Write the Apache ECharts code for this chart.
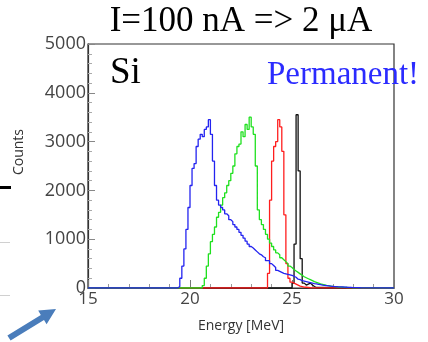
<!DOCTYPE html>
<html><head><meta charset="utf-8">
<script src="https://cdn.jsdelivr.net/npm/echarts@6/dist/echarts.min.js"></script>
<style>html,body{margin:0;padding:0;background:#fff}#c{width:428px;height:342px}</style>
</head><body><div id="c"></div>
<script>
// Histogram data: bin width 0.1 MeV, first bin left edge given by *Start
const binWidth = 0.1;
const xTicks = [15, 20, 25, 30];
const yTicks = [0, 1000, 2000, 3000, 4000, 5000];

const blueStart = 19.3;
const blueCounts = [0,30,200,450,800,1200,1650,2100,2450,2550,2900,3050,3150,3100,3250,3300,3450,3150,2600,2100,
  1800,1700,1650,1600,1520,1480,1400,1360,1300,1250,1200,1140,1080,1020,960,900,850,820,780,740,
  700,680,640,620,560,560,500,460,420,360,340,320,300,290,280,270,260,240,220,180,
  170,150,140,130,120,110,100,90,85,75,70,60,55,50,45,40,35,30,28,25,
  22,20,18,15,13,11,9,8,6,5,4,3,2,1,0];

const greenStart = 20.5;
const greenCounts = [0,50,200,450,700,950,1100,1250,1450,1550,1700,1850,1950,2100,2200,2350,2500,2750,2900,2950,
  3200,3100,3350,3250,3500,3300,3150,2500,1600,1400,1300,1200,1100,1000,920,850,780,720,680,620,
  580,540,500,450,420,380,350,320,290,260,230,210,190,170,150,130,115,100,85,75,
  65,55,48,40,35,30,25,20,17,14,12,10,8,6,5,4,3,2,1,0];

const redStart = 23.7;
const redCounts = [0,300,1800,2600,2900,3000,3450,3300,2800,1500,500,200,120,100,80,60,40,30,20,15,10,5,0];

const blackStart = 24.9;
const blackCounts = [0,100,900,3550,2400,600,100,60,80,100,60,30,10,0];

function histData(start, counts) {
  const d = [[15, 0]];
  counts.forEach((v, i) => d.push([+(start + i * binWidth).toFixed(2), v]));
  d.push([30, 0]);
  return d;
}

const chart = echarts.init(document.getElementById('c'), null, {renderer: 'canvas'});
function mk(name, color, start, counts) {
  return {type: 'line', name, step: 'end', symbol: 'none', data: histData(start, counts),
    lineStyle: {color, width: 1.3}, itemStyle: {color}, animation: false};
}
chart.setOption({
  animation: false,
  grid: {left: 88, right: 34, top: 44, bottom: 54, show: true, borderColor: '#333', borderWidth: 1.2, backgroundColor: 'transparent'},
  xAxis: {type: 'value', min: xTicks[0], max: xTicks[xTicks.length - 1], interval: 5,
    name: 'Energy [MeV]', nameLocation: 'middle', nameGap: 31,
    nameTextStyle: {fontFamily: 'Open Sans', fontSize: 14, color: '#333'},
    axisLine: {lineStyle: {color: '#333', width: 1.2}},
    axisTick: {inside: true, length: 8, lineStyle: {color: '#777'}},
    minorTick: {show: true, splitNumber: 5, length: 4, lineStyle: {color: '#999'}},
    splitLine: {show: false},
    axisLabel: {margin: 3, fontFamily: 'Open Sans', fontSize: 17, color: '#444', formatter: v => String(v)}},
  yAxis: {type: 'value', min: yTicks[0], max: yTicks[yTicks.length - 1], interval: 1000,
    axisLine: {show: true, lineStyle: {color: '#333', width: 1.2}},
    axisTick: {show: true, inside: true, length: 7, lineStyle: {color: '#888'}},
    minorTick: {show: true, splitNumber: 5, length: 4, lineStyle: {color: '#aaa'}},
    splitLine: {show: false},
    axisLabel: {margin: 2, fontFamily: 'Open Sans', fontSize: 18, color: '#444', formatter: v => String(v)}},
  series: [
    mk('black', '#111111', blackStart, blackCounts),
    mk('red', '#ff1e1e', redStart, redCounts),
    mk('green', '#1fe01f', greenStart, greenCounts),
    mk('blue', '#2323f0', blueStart, blueCounts)
  ],
  graphic: [
    {type: 'text', style: {text: 'I=100 nA => 2 μA', x: 241, y: 22, align: 'center', verticalAlign: 'middle', font: '35px "Liberation Serif"', fill: '#000'}},
    {type: 'text', style: {text: 'Si', x: 110, y: 73, align: 'left', verticalAlign: 'middle', font: '37px "Liberation Serif"', fill: '#000'}},
    {type: 'text', style: {text: 'Permanent!', x: 267, y: 75, align: 'left', verticalAlign: 'middle', font: '33px "Liberation Serif"', fill: '#2b2bff'}},
    {type: 'text', x: 19, y: 152, rotation: Math.PI / 2, style: {text: 'Counts', x: 0, y: 0, align: 'center', verticalAlign: 'middle', font: '14px "Open Sans"', fill: '#333'}},
    {type: 'rect', shape: {x: 0, y: 186, width: 11, height: 3}, style: {fill: '#000'}},
    {type: 'rect', shape: {x: 0, y: 242, width: 10, height: 1}, style: {fill: '#d0d0d0'}},
    {type: 'rect', shape: {x: 0, y: 295, width: 10, height: 1}, style: {fill: '#d0d0d0'}},
    {type: 'polygon', shape: {points: [[7.4,335.5],[40.8,314.9],[38.2,310.6],[56,309],[46.6,324.2],[44,320],[10.6,340.6]]}, style: {fill: '#4a7dbb'}}
  ]
});
</script></body></html>
